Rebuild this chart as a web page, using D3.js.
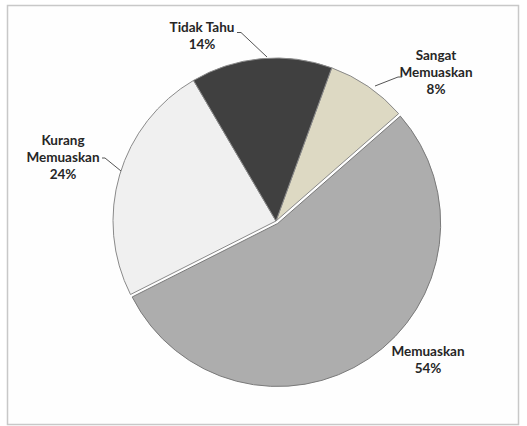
<!DOCTYPE html>
<html>
<head>
<meta charset="utf-8">
<script src="https://cdn.jsdelivr.net/npm/d3@7"></script>
<style>
  html, body { margin: 0; padding: 0; background: #ffffff; }
  svg { display: block; }
  text { font-family: Lato, "Open Sans", sans-serif; font-weight: bold; font-size: 13.5px; fill: #262626; }
</style>
</head>
<body>
<script>
// Survey response categories and their shares (percent)
const categories = ["Sangat Memuaskan", "Memuaskan", "Kurang Memuaskan", "Tidak Tahu"];
const values = [8, 54, 24, 14];
const labelLines = [["Sangat", "Memuaskan", "8%"], ["Memuaskan", "54%"], ["Kurang", "Memuaskan", "24%"], ["Tidak Tahu", "14%"]];
const colors = ["#ddd9c3", "#adadad", "#f0f0f0", "#404040"];

const W = 527, H = 426;
const cx = 276, cy = 221, R = 163;

const svg = d3.select("body").append("svg").attr("width", W).attr("height", H);

// chart area frame
svg.append("rect").attr("x", 7.5).attr("y", 5.5).attr("width", 511).attr("height", 419)
  .attr("fill", "#fefefe").attr("stroke", "#c8c8c8").attr("stroke-width", 1.5);

const pie = d3.pie().sort(null).value(d => d)
  .startAngle(20 * Math.PI / 180).endAngle(20 * Math.PI / 180 + 2 * Math.PI);
const arcs = pie(values);
const arc = d3.arc().innerRadius(0).outerRadius(R);

const g = svg.append("g").attr("transform", `translate(${cx},${cy})`);

// the largest slice is pulled out slightly from the centre
const explode = i => i === 1 ? 3 : 0;

g.selectAll("path.slice").data(arcs).enter().append("path")
  .attr("class", "slice")
  .attr("d", arc)
  .attr("transform", (d, i) => {
    const a = (d.startAngle + d.endAngle) / 2;
    const o = explode(i);
    return `translate(${o * Math.sin(a)},${-o * Math.cos(a)})`;
  })
  .attr("fill", (d, i) => colors[i])
  .attr("stroke", (d, i) => i === 1 ? "#7a7a7a" : "#8a8a8a")
  .attr("stroke-width", 1);

// label positions (centre x, first baseline y) and leader line points
const labelPos = [
  { x: 436, y: 60, leader: [[402, 77], [398, 77], [375, 86]] },
  { x: 428, y: 356, leader: null },
  { x: 63, y: 145, leader: [[102, 158], [105, 158], [121, 171]] },
  { x: 202, y: 32, leader: [[237, 32.5], [241, 32.5], [267, 57]] }
];
const lineH = 17;

const lab = svg.append("g");
labelPos.forEach((p, i) => {
  const t = lab.append("text").attr("text-anchor", "middle");
  labelLines[i].forEach((s, k) => {
    t.append("tspan").attr("x", p.x).attr("y", p.y + k * lineH).text(s);
  });
  if (p.leader) {
    lab.append("path").attr("d", d3.line()(p.leader))
      .attr("fill", "none").attr("stroke", "#555").attr("stroke-width", 1);
  }
});
</script>
</body>
</html>
